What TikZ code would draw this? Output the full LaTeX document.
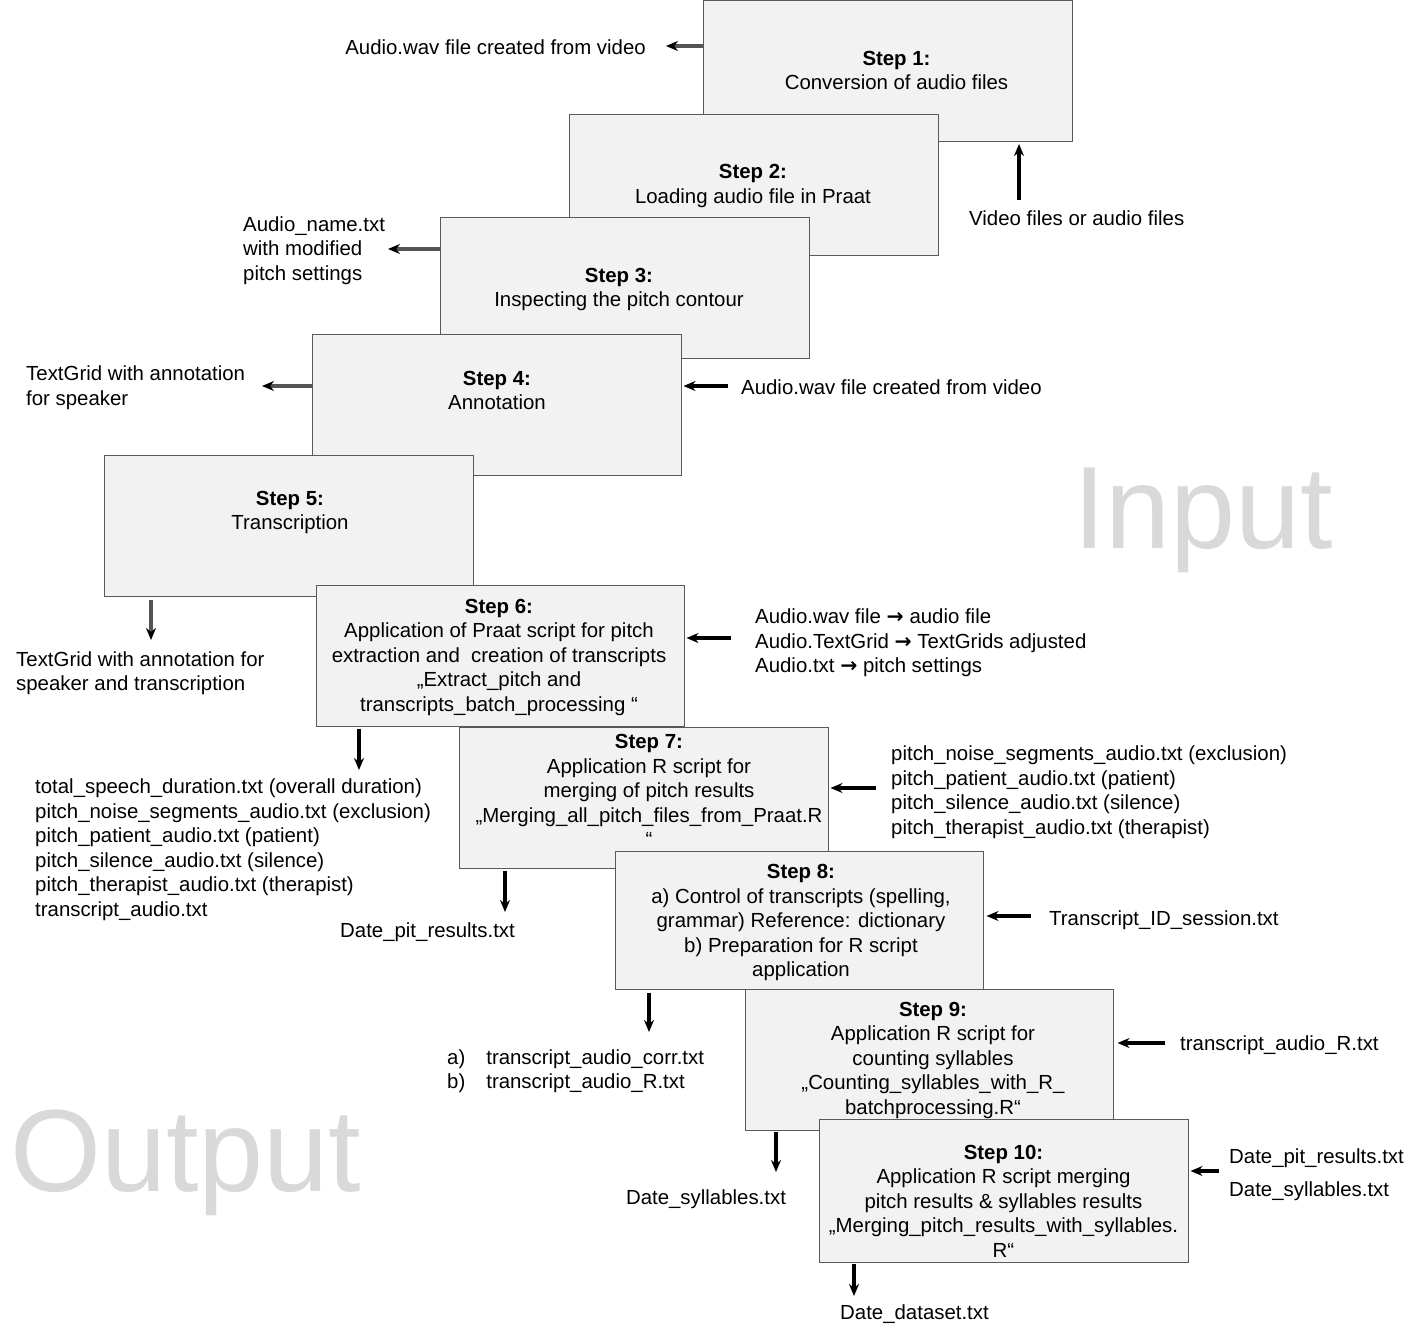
\documentclass[tikz,border=0pt]{standalone}
\usepackage{fontspec}
\setmainfont{Liberation Sans}
\newfontfamily\symfont{DejaVu Sans}
\usetikzlibrary{arrows.meta}
\definecolor{boxfill}{HTML}{F2F2F2}
\definecolor{boxline}{HTML}{595959}
\definecolor{arrgray}{HTML}{555555}
\definecolor{bigtext}{HTML}{D9D9D9}
\begin{document}
\begin{tikzpicture}[x=1pt,y=-1pt,
  stepbox/.style={draw=boxline, fill=boxfill, line width=1pt, minimum width=369pt, minimum height=141pt, inner sep=0pt},
  txt/.style={inner sep=0pt, yshift=-3.5pt, font=\fontsize{20.4}{24.5}\selectfont, execute at begin node=\strut, execute at end node=\strut},
  ctxt/.style={txt, align=center},
  ltxt/.style={txt, align=left, anchor=west},
  arr/.style={line width=3.2pt, draw=black, -{Stealth[length=12pt,width=10pt]}},
  garr/.style={line width=3.2pt, draw=arrgray, -{Stealth[length=12pt,width=10pt,color=black]}},
  bigword/.style={inner sep=0pt, anchor=base west, text=bigtext, font=\fontsize{117}{140}\selectfont}
]
\useasboundingbox (0,0) rectangle (1417,1336);

% big background words
\node[bigword] (input) at (1073,548) {Input};
\node[bigword] (output) at (10,1191) {Output};

% step boxes
\node[stepbox] (step1) at (887.5,71) {};
\node[ctxt] (t1) at (896.5,70.5) {\textbf{Step 1:}\\Conversion of audio files};
\node[stepbox] (step2) at (753.5,184.5) {};
\node[ctxt] (t2) at (753,184) {\textbf{Step 2:}\\Loading audio file in Praat};
\node[stepbox] (step3) at (624.5,287.5) {};
\node[ctxt] (t3) at (619,287.5) {\textbf{Step 3:}\\Inspecting the pitch contour};
\node[stepbox] (step4) at (496.5,404.5) {};
\node[ctxt] (t4) at (497,390.5) {\textbf{Step 4:}\\Annotation};
\node[stepbox] (step5) at (288.5,525.5) {};
\node[ctxt] (t5) at (290,510.5) {\textbf{Step 5:}\\Transcription};
\node[stepbox, minimum width=368pt] (step6) at (500,655.5) {};
\node[ctxt] (t6) at (499,655.5) {\textbf{Step 6:}\\Application of Praat script for pitch\\extraction and\ \ creation of transcripts\\„Extract\_pitch and\\transcripts\_batch\_processing “};
\node[stepbox] (step7) at (643.5,797.5) {};
\node[ctxt] (t7) at (649,791) {\textbf{Step 7:}\\Application R script for\\merging of pitch results\\„Merging\_all\_pitch\_files\_from\_Praat.R\\“};
\node[stepbox, minimum width=368pt, minimum height=138pt] (step8) at (799,920) {};
\node[ctxt] (t8) at (801,921) {\textbf{Step 8:}\\a) Control of transcripts (spelling,\\grammar) Reference: dictionary\\b) Preparation for R script\\application};
\node[stepbox, minimum width=368pt] (step9) at (929,1059.5) {};
\node[ctxt] (t9) at (933,1058.5) {\textbf{Step 9:}\\Application R script for\\counting syllables\\„Counting\_syllables\_with\_R\_\\batchprocessing.R“};
\node[stepbox, minimum height=143pt] (step10) at (1003.5,1190.5) {};
\node[ctxt] (t10) at (1003.5,1201.5) {\textbf{Step 10:}\\Application R script merging\\pitch results \& syllables results\\„Merging\_pitch\_results\_with\_syllables.\\R“};

% labels
\node[txt, anchor=east] (l1) at (646,46) {Audio.wav file created from video};
\node[ltxt] (l2) at (969,217) {Video files or audio files};
\node[ltxt] (l3) at (243,248.5) {Audio\_name.txt\\with modified\\pitch settings};
\node[ltxt] (l4) at (26,386) {TextGrid with annotation\\for speaker};
\node[ltxt] (l5) at (741,386) {Audio.wav file created from video};
\node[ltxt] (l6) at (16,671.5) {TextGrid with annotation for\\speaker and transcription};
\node[ltxt] (l7) at (755,641) {Audio.wav file {\symfont\bfseries →} audio file\\Audio.TextGrid {\symfont\bfseries →} TextGrids adjusted\\Audio.txt {\symfont\bfseries →} pitch settings};
\node[ltxt] (l8) at (35,848) {total\_speech\_duration.txt (overall duration)\\pitch\_noise\_segments\_audio.txt (exclusion)\\pitch\_patient\_audio.txt (patient)\\pitch\_silence\_audio.txt (silence)\\pitch\_therapist\_audio.txt (therapist)\\transcript\_audio.txt};
\node[ltxt] (l9) at (891,790.5) {pitch\_noise\_segments\_audio.txt (exclusion)\\pitch\_patient\_audio.txt (patient)\\pitch\_silence\_audio.txt (silence)\\pitch\_therapist\_audio.txt (therapist)};
\node[ctxt] (l10) at (427.5,929) {Date\_pit\_results.txt};
\node[ltxt] (l11) at (1049,917) {Transcript\_ID\_session.txt};
\node[ltxt] (l12) at (447,1069.5) {a)\hspace{21pt}transcript\_audio\_corr.txt\\b)\hspace{21pt}transcript\_audio\_R.txt};
\node[ltxt] (l13) at (1180,1042) {transcript\_audio\_R.txt};
\node[ctxt] (l14) at (706,1196) {Date\_syllables.txt};
\node[ltxt] (l15) at (1229,1172.5) {Date\_pit\_results.txt\\[8.5pt]Date\_syllables.txt};
\node[ctxt] (l16) at (914.5,1311) {Date\_dataset.txt};

% arrow end points
\coordinate (e1) at (666,46);
\coordinate (e2) at (1019,200);
\coordinate (e3) at (388,249);
\coordinate (e4) at (262,386);
\coordinate (e5) at (728,386);
\coordinate (e6) at (151,640);
\coordinate (e7) at (731,638);
\coordinate (e8) at (359,770);
\coordinate (e9) at (876,788);
\coordinate (e10) at (505,912);
\coordinate (e11) at (1031,916);
\coordinate (e12) at (649,1032);
\coordinate (e13) at (1165,1043);
\coordinate (e14) at (776,1172);
\coordinate (e15) at (1219,1171);
\coordinate (e16) at (854,1296);

% arrows
\draw[garr] (e1 -| step1.west) -- (e1);
\draw[arr, shorten >=2pt] (e2) -- (e2 |- step1.south);
\draw[garr] (e3 -| step3.west) -- (e3);
\draw[garr] (e4 -| step4.west) -- (e4);
\draw[arr, shorten >=2pt] (e5) -- (e5 -| step4.east);
\draw[garr, shorten <=3pt] (e6 |- step5.south) -- (e6);
\draw[arr, shorten >=2pt] (e7) -- (e7 -| step6.east);
\draw[arr, shorten <=2pt] (e8 |- step6.south) -- (e8);
\draw[arr, shorten >=2pt] (e9) -- (e9 -| step7.east);
\draw[arr, shorten <=2pt] (e10 |- step7.south) -- (e10);
\draw[arr, shorten >=3pt] (e11) -- (e11 -| step8.east);
\draw[arr, shorten <=3pt] (e12 |- step8.south) -- (e12);
\draw[arr, shorten >=4pt] (e13) -- (e13 -| step9.east);
\draw[arr, shorten <=1pt] (e14 |- step9.south) -- (e14);
\draw[arr, shorten >=2pt] (e15) -- (e15 -| step10.east);
\draw[arr, shorten <=1pt] (e16 |- step10.south) -- (e16);
\end{tikzpicture}
\end{document}
